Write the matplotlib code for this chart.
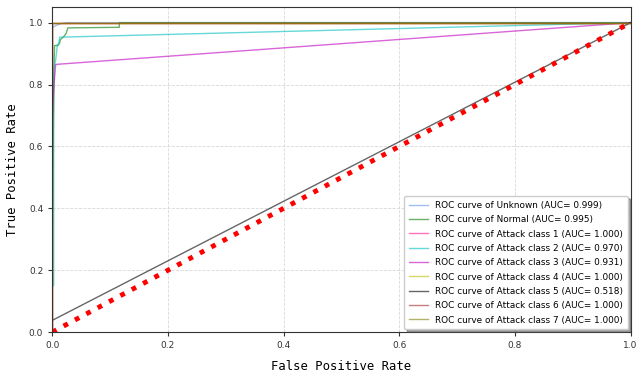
"""
ROC curves for the multi-class detector
"""
import numpy as np
import matplotlib
matplotlib.use("Agg")
import matplotlib.pyplot as plt

# curve points (fpr, tpr)
class_names = ["Unknown", "Normal", "Attack class 1", "Attack class 2", "Attack class 3",
               "Attack class 4", "Attack class 5", "Attack class 6", "Attack class 7"]
auc_values = [0.999, 0.995, 1.000, 0.970, 0.931, 1.000, 0.518, 1.000, 1.000]

fpr_unknown = [0.0, 0.0, 0.006, 0.015, 0.025, 1.0]
tpr_unknown = [0.0, 0.984, 0.99, 0.997, 1.0, 1.0]

fpr_normal = [0.0, 0.0, 0.003, 0.004, 0.010, 0.013, 0.014, 0.020, 0.024, 0.027, 0.116, 0.116, 1.0]
tpr_normal = [0.0, 0.30, 0.85, 0.926, 0.926, 0.935, 0.945, 0.955, 0.965, 0.983, 0.985, 1.0, 1.0]

fpr_att1 = [0.0, 0.0, 1.0]
tpr_att1 = [0.0, 1.0, 1.0]

fpr_att2 = [0.0, 0.0025, 0.0025, 0.006, 0.009, 0.011, 0.013, 1.0]
tpr_att2 = [0.15, 0.15, 0.85, 0.88, 0.93, 0.93, 0.953, 1.0]

fpr_att3 = [0.0, 0.0, 0.003, 0.006, 1.0]
tpr_att3 = [0.0, 0.68, 0.80, 0.865, 1.0]

fpr_att4 = [0.0, 0.0, 1.0]
tpr_att4 = [0.0, 1.0, 1.0]

fpr_att5 = [0.0, 0.0, 1.0]
tpr_att5 = [0.0, 0.038, 1.0]

fpr_att6 = [0.0, 0.0, 1.0]
tpr_att6 = [0.0, 1.0, 1.0]

fpr_att7 = [0.0, 0.0, 1.0]
tpr_att7 = [0.0, 1.0, 1.0]

colors = ["cornflowerblue", "green", "deeppink", "c", "m", "y", "k", "brown", "olive"]


def main():
	fprs = [fpr_unknown, fpr_normal, fpr_att1, fpr_att2, fpr_att3,
	        fpr_att4, fpr_att5, fpr_att6, fpr_att7]
	tprs = [tpr_unknown, tpr_normal, tpr_att1, tpr_att2, tpr_att3,
	        tpr_att4, tpr_att5, tpr_att6, tpr_att7]

	fig = plt.figure(figsize=(6.37, 3.77), dpi=100)
	ax = fig.add_axes([0.082, 0.119, 0.908, 0.862])
	for fpr, tpr, name, auc, col in zip(fprs, tprs, class_names, auc_values, colors):
		ax.plot(fpr, tpr, color=col, lw=1, alpha=0.6,
		        label="ROC curve of {0} (AUC= {1:0.3f})".format(name, auc))
	ax.plot([0, 1], [0, 1], "r:", lw=3.5)

	ax.set_xlim(0.0, 1.0)
	ax.set_ylim(0.0, 1.05)
	ax.grid(True, linestyle="--", color="#d8d8d8", lw=0.6)
	ax.tick_params(labelsize=6.5, colors="#333333", length=3)
	for s in ax.spines.values():
		s.set_color("#333333")
	ax.set_xlabel("False Positive Rate", family="DejaVu Sans Mono", fontsize=8.8, labelpad=7)
	ax.set_ylabel("True Positive Rate", family="DejaVu Sans Mono", fontsize=8.8, labelpad=7)
	leg = ax.legend(loc="lower right", fontsize=6.4, shadow=True, handlelength=2.1,
	                borderpad=0.55, labelspacing=0.6, borderaxespad=0.3)
	leg.get_frame().set_edgecolor("#cccccc")
	fig.savefig("out.png", dpi=100)


if __name__ == "__main__":
	main()
